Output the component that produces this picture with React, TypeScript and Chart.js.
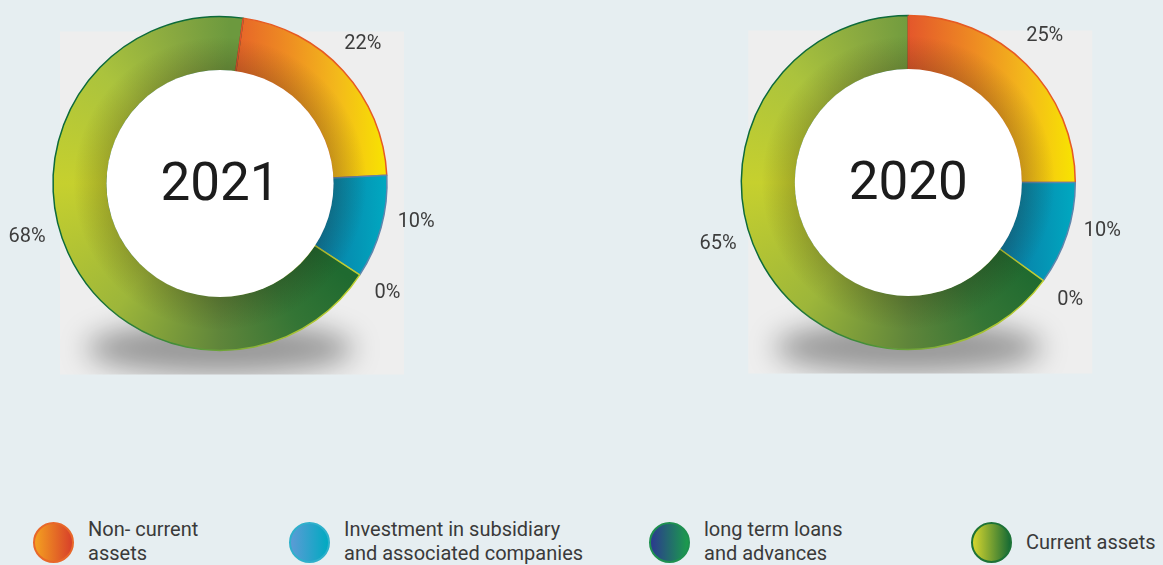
import React, { useEffect, useRef } from "react";
import { Chart, registerables } from "chart.js";

Chart.register(...registerables);

// ---------- data ----------
const categories = [
  "Non- current assets",
  "Investment in subsidiary and associated companies",
  "long term loans and advances",
  "Current assets",
];
const years = ["2021", "2020"];
const values2021 = [22, 10, 0, 68];
const values2020 = [25, 10, 0, 65];
const rotations = [8, 0];
const legendLines = [
  ["Non- current", "assets"],
  ["Investment in subsidiary", "and associated companies"],
  ["long term loans", "and advances"],
  ["Current assets"],
];
const legendFills = [
  "linear-gradient(to right, #f4a020, #d8402a)",
  "linear-gradient(to right, #5b9bd5, #00aac1)",
  "linear-gradient(to right, #2b3a8f, #1b9c4c)",
  "linear-gradient(to right, #d6d52e, #176b34)",
];
const legendBorders = ["#e8672a", "#2fb0cb", "#1e9050", "#1d7236"];
// label placement tweak (degrees) relative to the slice middle
const labelAngleNudge = [-2, -4, 0, 9];

// ---------- helpers ----------
function geom(chart: any) {
  const a = chart.chartArea;
  if (!a) return null;
  const cx = (a.left + a.right) / 2;
  const cy = (a.top + a.bottom) / 2;
  const R = Math.min(a.right - a.left, a.bottom - a.top) / 2;
  return { cx, cy, R };
}

function fillFor(context: any) {
  const chart = context.chart;
  const g = geom(chart);
  const i = context.dataIndex;
  const flat = ["#ef8e22", "#0596b5", "#1e7a45", "#9cb83a"];
  if (!g) return flat[i];
  const ctx = chart.ctx as CanvasRenderingContext2D;
  const { cx, cy, R } = g;
  if (i === 0) {
    const gr = ctx.createLinearGradient(cx, 0, cx + R, 0);
    gr.addColorStop(0, "#e4572b");
    gr.addColorStop(0.4, "#ee8c22");
    gr.addColorStop(0.7, "#f3b91b");
    gr.addColorStop(1, "#f8e500");
    return gr;
  }
  if (i === 1) {
    const gr = ctx.createLinearGradient(cx + R * 0.55, 0, cx + R, 0);
    gr.addColorStop(0, "#0a78a3");
    gr.addColorStop(1, "#00a9c1");
    return gr;
  }
  if (i === 2) return "#1e7a45";
  if ((ctx as any).createConicGradient) {
    const gr = (ctx as any).createConicGradient(0, cx, cy);
    gr.addColorStop(0, "#1f6a30");
    gr.addColorStop(0.1, "#1f6a30");
    gr.addColorStop(0.17, "#347535");
    gr.addColorStop(0.25, "#5f853a");
    gr.addColorStop(0.36, "#9db63a");
    gr.addColorStop(0.5, "#c6d02e");
    gr.addColorStop(0.62, "#abc33d");
    gr.addColorStop(0.71, "#85a640");
    gr.addColorStop(0.76, "#6c993e");
    gr.addColorStop(1, "#6c993e");
    return gr;
  }
  return flat[i];
}

function borderFor(context: any) {
  const chart = context.chart;
  const g = geom(chart);
  const i = context.dataIndex;
  const flat = ["#e65a24", "#5d86ad", "#b4c832", "#0d6a3a"];
  if (!g || i !== 3) return flat[i];
  const ctx = chart.ctx as any;
  if (!ctx.createConicGradient) return flat[i];
  const gr = ctx.createConicGradient(0, g.cx, g.cy);
  gr.addColorStop(0, "#b9cc2e");
  gr.addColorStop(0.12, "#c0d030");
  gr.addColorStop(0.2, "#9cbc36");
  gr.addColorStop(0.3, "#3d8a3a");
  gr.addColorStop(0.4, "#0d6a3a");
  gr.addColorStop(1, "#0d6a3a");
  return gr;
}

function decorPlugin(year: string) {
  return {
    id: "decor" + year,
    beforeDraw(chart: any) {
      const meta = chart.getDatasetMeta(0);
      const arc: any = meta.data[0];
      if (!arc) return;
      const ctx = chart.ctx as CanvasRenderingContext2D;
      const cx = arc.x, cy = arc.y, R = arc.outerRadius;
      const px = cx - 160, py = cy - 152, pw = 344, ph = 343;
      ctx.save();
      ctx.fillStyle = "#eeeeee";
      ctx.fillRect(px, py, pw, ph);
      ctx.beginPath();
      ctx.rect(px, py, pw, ph);
      ctx.clip();
      (ctx as any).filter = "blur(14px)";
      ctx.fillStyle = "rgba(0,0,0,0.36)";
      ctx.beginPath();
      ctx.ellipse(cx, cy + R - 2, R * 0.8, 26, 0, 0, Math.PI * 2);
      ctx.fill();
      ctx.restore();
    },
    afterDatasetsDraw(chart: any) {
      const meta = chart.getDatasetMeta(0);
      const arcs: any[] = meta.data;
      if (!arcs.length) return;
      const ctx = chart.ctx as CanvasRenderingContext2D;
      const a0 = arcs[0];
      const cx = a0.x, cy = a0.y, R = a0.outerRadius, r = a0.innerRadius;
      ctx.save();
      // leading radial edge of the first slice
      ctx.strokeStyle = "#e2502a";
      ctx.lineWidth = 1.6;
      ctx.beginPath();
      ctx.moveTo(cx + Math.cos(a0.startAngle) * r, cy + Math.sin(a0.startAngle) * r);
      ctx.lineTo(cx + Math.cos(a0.startAngle) * R, cy + Math.sin(a0.startAngle) * R);
      ctx.stroke();
      // inner shading
      const sh = ctx.createRadialGradient(cx, cy, r, cx, cy, r + 34);
      sh.addColorStop(0, "rgba(40,30,10,0.22)");
      sh.addColorStop(1, "rgba(40,30,10,0)");
      ctx.fillStyle = sh;
      ctx.beginPath();
      ctx.arc(cx, cy, r + 34, 0, Math.PI * 2);
      ctx.arc(cx, cy, r, 0, Math.PI * 2, true);
      ctx.fill();
      // white hole
      ctx.fillStyle = "#ffffff";
      ctx.beginPath();
      ctx.arc(cx, cy, r + 0.8, 0, Math.PI * 2);
      ctx.fill();
      // year
      ctx.fillStyle = "#1c1c1c";
      ctx.font = "53px Roboto";
      ctx.textAlign = "center";
      ctx.textBaseline = "alphabetic";
      ctx.fillText(year, cx, cy + 16);
      // percentage labels
      const data = chart.data.datasets[0].data as number[];
      ctx.font = "20px Roboto";
      ctx.fillStyle = "#3d3d3d";
      ctx.textBaseline = "middle";
      arcs.forEach((arc: any, i: number) => {
        const mid = (arc.startAngle + arc.endAngle) / 2 + (labelAngleNudge[i] * Math.PI) / 180;
        const d = R + 33;
        ctx.fillText(data[i] + "%", cx + Math.cos(mid) * d, cy + Math.sin(mid) * d);
      });
      ctx.restore();
    },
  };
}

function makeChart(canvas: HTMLCanvasElement, values: number[], year: string, rotation: number, padding: any) {
  return new Chart(canvas, {
    type: "doughnut",
    data: {
      labels: categories,
      datasets: [
        {
          data: values,
          backgroundColor: fillFor as any,
          borderColor: borderFor as any,
          borderWidth: 1.5,
          hoverOffset: 0,
        },
      ],
    },
    options: {
      responsive: false,
      animation: false,
      cutout: "67.5%",
      rotation,
      layout: { padding },
      plugins: { legend: { display: false }, tooltip: { enabled: false } },
    },
    plugins: [decorPlugin(year) as any],
  });
}

export default function App() {
  const c1 = useRef<HTMLCanvasElement>(null);
  const c2 = useRef<HTMLCanvasElement>(null);

  useEffect(() => {
    const ch1 = makeChart(c1.current!, values2021, years[0], rotations[0], {
      left: 52.25, right: 72.25, top: 15.75, bottom: 48.75,
    });
    const ch2 = makeChart(c2.current!, values2020, years[1], rotations[1], {
      left: 50.55, right: 86.95, top: 14.75, bottom: 49.75,
    });
    return () => {
      ch1.destroy();
      ch2.destroy();
    };
  }, []);

  const legendX = [33, 289, 649, 971];
  return (
    <div
      style={{
        position: "fixed",
        left: 0,
        top: 0,
        width: 1163,
        height: 565,
        background: "#e6eef1",
        overflow: "hidden",
        fontFamily: "Roboto, sans-serif",
      }}
    >
      <canvas ref={c1} width={460} height={400} style={{ position: "absolute", left: 0, top: 0 }} />
      <canvas ref={c2} width={473} height={400} style={{ position: "absolute", left: 690, top: 0 }} />
      {categories.map((cat, i) => {
        const lines = legendLines[i];
        const textTop = lines.length === 1 ? 530 : 517;
        return (
          <React.Fragment key={cat}>
            <div
              style={{
                position: "absolute",
                left: legendX[i],
                top: 522,
                width: 37,
                height: 37,
                borderRadius: "50%",
                background: legendFills[i],
                border: `2px solid ${legendBorders[i]}`,
              }}
            />
            <div
              style={{
                position: "absolute",
                left: legendX[i] + 55,
                top: textTop,
                fontSize: 20,
                lineHeight: "24px",
                color: "#3a3a3a",
                whiteSpace: "nowrap",
              }}
            >
              {lines.map((l) => (
                <div key={l}>{l}</div>
              ))}
            </div>
          </React.Fragment>
        );
      })}
    </div>
  );
}
